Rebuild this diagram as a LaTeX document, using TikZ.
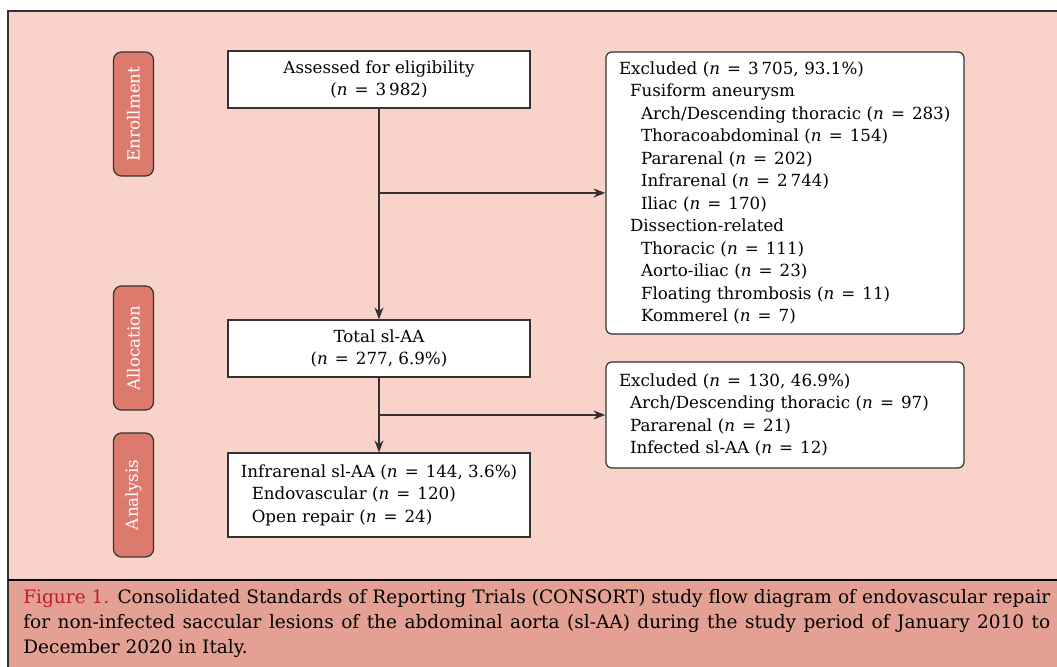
\documentclass[tikz,border=0pt]{standalone}
\usepackage{fontspec}
\setmainfont{DejaVu Serif}
\usetikzlibrary{arrows.meta}
\definecolor{bgpink}{RGB}{249,211,202}
\definecolor{cappink}{RGB}{227,160,147}
\definecolor{tabred}{RGB}{220,122,110}
\definecolor{figred}{RGB}{190,30,45}
\definecolor{edge}{RGB}{50,50,50}
\newcommand{\boxfont}{\fontsize{8.35}{11.25}\selectfont}
\newcommand{\lvA}{\hspace*{5.5pt}}
\newcommand{\lvB}{\hspace*{11pt}}
\newcommand{\nis}{\textit{n}\hspace{0.42em}=\hspace{0.42em}}
\tikzset{
	flowbox/.style={draw=edge, line width=0.6pt, fill=white, minimum width=151pt, minimum height=28.5pt, inner sep=0pt, align=center, font=\boxfont},
	exclbox/.style={draw=edge, line width=0.6pt, fill=white, rounded corners=3pt, minimum width=179pt, text width=166pt, inner xsep=6.5pt, align=left, font=\boxfont},
	stagetab/.style={draw=edge, line width=0.6pt, fill=tabred, rounded corners=4pt, rotate=90, minimum width=62pt, minimum height=20pt, inner sep=0pt, text=white, font=\boxfont},
	flowarrow/.style={draw=edge, line width=0.6pt, -{Stealth[length=6pt,width=4.5pt]}}
}

\begin{document}
\begin{tikzpicture}[x=0.5pt,y=-0.5pt]
				\useasboundingbox (0,0) rectangle (1057,667);
				\clip (0,0) rectangle (1057,667);
				\fill[white] (0,0) rectangle (1057,667);
				\fill[bgpink] (8,11) rectangle (1060,580);
				\fill[cappink] (8,580) rectangle (1060,670);
				\draw[edge, line width=0.6pt] (8,670) -- (8,11) -- (1060,11);
				\draw[black, line width=1.2pt] (8,580) -- (1060,580);
				
				% stages
				\node[stagetab] (enrol) at (133.5,114) {Enrollment};
				\node[stagetab] (alloc) at (133.5,348) {Allocation};
				\node[stagetab] (analys) at (133.5,495) {Analysis};
				
				% main column
				\node[flowbox] (assessed) at (379,79.5) {Assessed for eligibility\\(\nis 3\,982)};
				\node[flowbox] (total) at (379,348.5) {Total sl-AA\\(\nis 277, 6.9\%)};
				\node[flowbox, minimum height=42pt, align=left] (infra) at (379,495) {Infrarenal sl-AA (\nis 144, 3.6\%)\\
					\lvA Endovascular (\nis 120)\\
					\lvA Open repair (\nis 24)};
				
				% excluded
				\node[exclbox, minimum height=141pt] (excla) at (785,193) {Excluded (\nis 3\,705, 93.1\%)\\
					\lvA Fusiform aneurysm\\
					\lvB Arch/Descending thoracic (\nis 283)\\
					\lvB Thoracoabdominal (\nis 154)\\
					\lvB Pararenal (\nis 202)\\
					\lvB Infrarenal (\nis 2\,744)\\
					\lvB Iliac (\nis 170)\\
					\lvA Dissection-related\\
					\lvB Thoracic (\nis 111)\\
					\lvB Aorto-iliac (\nis 23)\\
					\lvB Floating thrombosis (\nis 11)\\
					\lvB Kommerel (\nis 7)};
				\node[exclbox, minimum height=53pt] (exclb) at (785,415) {Excluded (\nis 130, 46.9\%)\\
					\lvA Arch/Descending thoracic (\nis 97)\\
					\lvA Pararenal (\nis 21)\\
					\lvA Infected sl-AA (\nis 12)};
				
				\draw[flowarrow] (assessed) -- (total);
				\draw[flowarrow] (total) -- (infra);
				\draw[flowarrow] (assessed.south |- excla.west) -- (excla.west);
				\draw[flowarrow] (total.south |- exclb.west) -- (exclb.west);
				
				% caption
				\node[anchor=north west, inner sep=0pt, text width=513.5pt, align=justify, font=\fontsize{9.25}{12.6}\selectfont] (caption) at (23,589) {\textcolor{figred}{Figure 1.} Consolidated Standards of Reporting Trials (CONSORT) study flow diagram of endovascular repair\linebreak for non-infected saccular lesions of the abdominal aorta (sl-AA) during the study period of January 2010 to\linebreak December 2020 in Italy.};
			\end{tikzpicture}
\end{document}
